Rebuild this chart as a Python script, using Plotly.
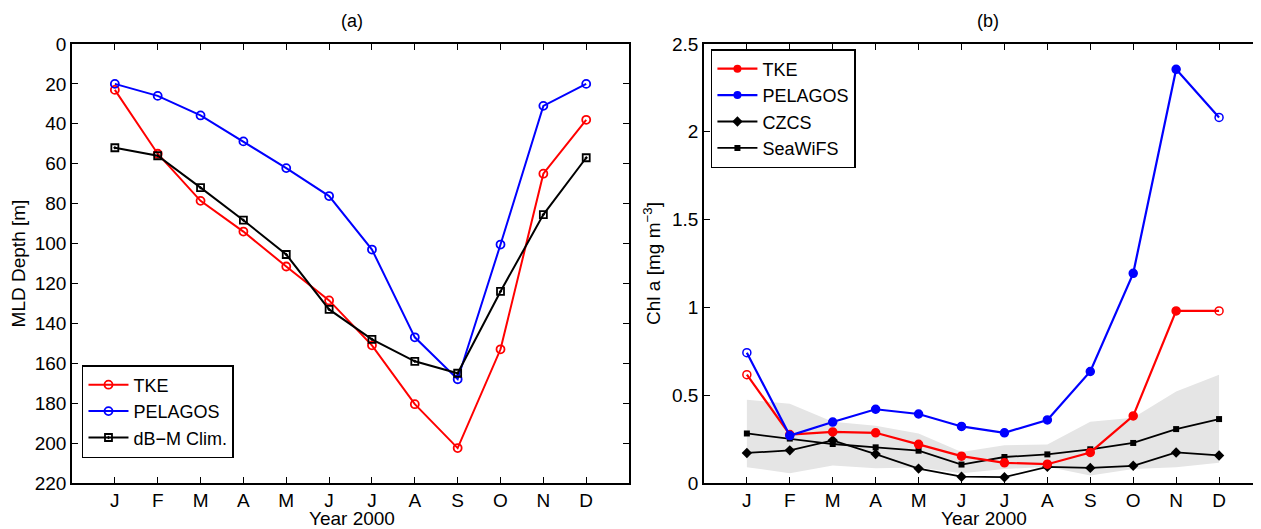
import plotly.graph_objects as go
from plotly.subplots import make_subplots

# months (x positions 1..12 on a numeric axis, since letters repeat)
months = ['J', 'F', 'M', 'A', 'M', 'J', 'J', 'A', 'S', 'O', 'N', 'D']
month_pos = [1, 2, 3, 4, 5, 6, 7, 8, 9, 10, 11, 12]

# (a) mixed layer depth [m]
mld_tke      = [23, 55, 78.6, 94, 111.5, 128.5, 151, 180.5, 202.5, 153, 65, 38]
mld_pelagos  = [20, 26, 35.8, 48.8, 62.2, 76.2, 103, 147, 168, 100.5, 31, 20]
mld_dbm      = [52, 56, 72, 88.3, 105.5, 133, 148, 159, 165, 124, 85.5, 57]

# (b) surface chlorophyll [mg m-3]
chl_tke      = [0.617, 0.276, 0.291, 0.286, 0.22, 0.153, 0.115, 0.107, 0.174, 0.382, 0.98, 0.98]
chl_pelagos  = [0.742, 0.27, 0.347, 0.42, 0.393, 0.322, 0.286, 0.359, 0.635, 1.194, 2.356, 2.082]
chl_czcs     = [0.171, 0.186, 0.243, 0.165, 0.082, 0.036, 0.033, 0.092, 0.086, 0.098, 0.174, 0.157]
chl_seawifs  = [0.282, 0.253, 0.222, 0.203, 0.184, 0.105, 0.148, 0.163, 0.192, 0.228, 0.307, 0.364]
band_upper   = [0.474, 0.452, 0.349, 0.326, 0.282, 0.176, 0.215, 0.219, 0.349, 0.372, 0.521, 0.617]
band_lower   = [0.09, 0.056, 0.1, 0.084, 0.088, 0.055, 0.08, 0.092, 0.042, 0.08, 0.09, 0.115]

FONT = 'Liberation Sans, Arial, sans-serif'
FS = 19
RED, BLUE = '#ff0000', '#0000ff'

fig = make_subplots(rows=1, cols=2)

# --- panel (a)
for ys, name, color, sym, size in [
    (mld_tke, 'TKE', RED, 'circle-open', 8),
    (mld_pelagos, 'PELAGOS', BLUE, 'circle-open', 8),
    (mld_dbm, 'dB\u2212M Clim.', 'black', 'square-open-dot', 7),
]:
    fig.add_trace(go.Scatter(
        x=month_pos, y=ys, name=name, mode='lines+markers',
        line=dict(color=color, width=2),
        marker=dict(symbol=sym, size=size, line=dict(width=1.8, color=color)),
        legend='legend'), row=1, col=1)

# --- panel (b): grey envelope first, then the lines
fig.add_trace(go.Scatter(
    x=month_pos, y=band_lower, mode='lines', line=dict(width=0, color='#e5e5e5'),
    showlegend=False, hoverinfo='skip'), row=1, col=2)
fig.add_trace(go.Scatter(
    x=month_pos, y=band_upper, mode='lines', line=dict(width=0, color='#e5e5e5'),
    fill='tonexty', fillcolor='#e5e5e5', showlegend=False, hoverinfo='skip'), row=1, col=2)

fig.add_trace(go.Scatter(
    x=month_pos, y=chl_czcs, name='CZCS', mode='lines+markers',
    line=dict(color='black', width=1.8),
    marker=dict(symbol='diamond', size=8, color='black'),
    legend='legend2', legendrank=3), row=1, col=2)
fig.add_trace(go.Scatter(
    x=month_pos, y=chl_seawifs, name='SeaWiFS', mode='lines+markers',
    line=dict(color='black', width=1.8),
    marker=dict(symbol='square', size=6, color='black'),
    legend='legend2', legendrank=4), row=1, col=2)

# first and last month are drawn as open circles
end_open = ['circle-open'] + ['circle'] * 10 + ['circle-open']
for ys, name, color, rank in [(chl_tke, 'TKE', RED, 1), (chl_pelagos, 'PELAGOS', BLUE, 2)]:
    fig.add_trace(go.Scatter(
        x=month_pos, y=ys, name=name, mode='lines+markers',
        line=dict(color=color, width=2.2),
        marker=dict(symbol=end_open, size=8, color=color, line=dict(width=1.5, color=color)),
        showlegend=False), row=1, col=2)
    # legend entry with filled marker
    fig.add_trace(go.Scatter(
        x=[None], y=[None], name=name, mode='lines+markers',
        line=dict(color=color, width=2.2),
        marker=dict(symbol='circle', size=8, color=color),
        legend='legend2', legendrank=rank), row=1, col=2)

axis_style = dict(
    showline=True, linecolor='black', linewidth=1.5, mirror='ticks',
    ticks='inside', ticklen=6, tickwidth=1, tickcolor='black',
    showgrid=False, zeroline=False,
    tickfont=dict(family=FONT, size=FS, color='black'),
)
fig.update_xaxes(**axis_style, tickvals=month_pos, ticktext=months, ticklabelstandoff=-1)
fig.update_yaxes(**axis_style)

# the page body adds an 8px margin, so the figure is 8px smaller than the window
BODY = 8
FIG_W, FIG_H = 1261 - BODY, 529 - BODY
L, R = 72 - BODY, 0
T, B = 44 - BODY, 529 - 483
W = FIG_W - L - R
plot_h = FIG_H - T - B

fig.update_xaxes(domain=[0, (630 - 72) / W], range=[0, 13], row=1, col=1)
fig.update_xaxes(domain=[(705 - 72) / W, 1.0], range=[0, (1261 - 705) / 43], row=1, col=2)
fig.update_yaxes(range=[220, 0], tickvals=list(range(0, 221, 20)),
                 title=dict(text='MLD Depth [m]', font=dict(family=FONT, size=FS, color='black'), standoff=6),
                 row=1, col=1)
fig.update_yaxes(range=[0, 2.5], tickvals=[0, 0.5, 1, 1.5, 2, 2.5],
                 ticktext=['0', '0.5', '1', '1.5', '2', '2.5'],
                 title=dict(text='Chl a [mg m<sup>\u22123</sup>]', font=dict(family=FONT, size=FS, color='black'), standoff=6),
                 row=1, col=2)

legend_style = dict(
    bgcolor='white', bordercolor='black', borderwidth=1.5,
    font=dict(family=FONT, size=18, color='black'),
    xanchor='left', yanchor='top', tracegroupgap=0, itemwidth=40,
    traceorder='normal',
)


# reference-image pixel -> paper coordinates
def px_x(px):
    return (px - 72) / W


def px_y(px):
    return 1 - (px - 44) / plot_h


def label(text, x, y, size):
    return dict(text=text, x=px_x(x), y=px_y(y), xref='paper', yref='paper',
                xanchor='center', yanchor='middle', showarrow=False,
                font=dict(family=FONT, size=size, color='black'))


fig.update_layout(
    width=FIG_W, height=FIG_H,
    margin=dict(l=L, r=R, t=T, b=B),
    plot_bgcolor='white', paper_bgcolor='white',
    font=dict(family=FONT, size=FS, color='black'),
    legend=dict(**legend_style, x=px_x(82), y=px_y(365)),
    legend2=dict(**legend_style, x=px_x(712), y=px_y(49)),
    annotations=[
        label('(a)', 352, 21, 18),
        label('(b)', 990, 21, 18),
        label('Year 2000', 352, 519, FS),
        label('Year 2000', 986, 519, FS),
    ],
)

fig.write_html("out.html")
